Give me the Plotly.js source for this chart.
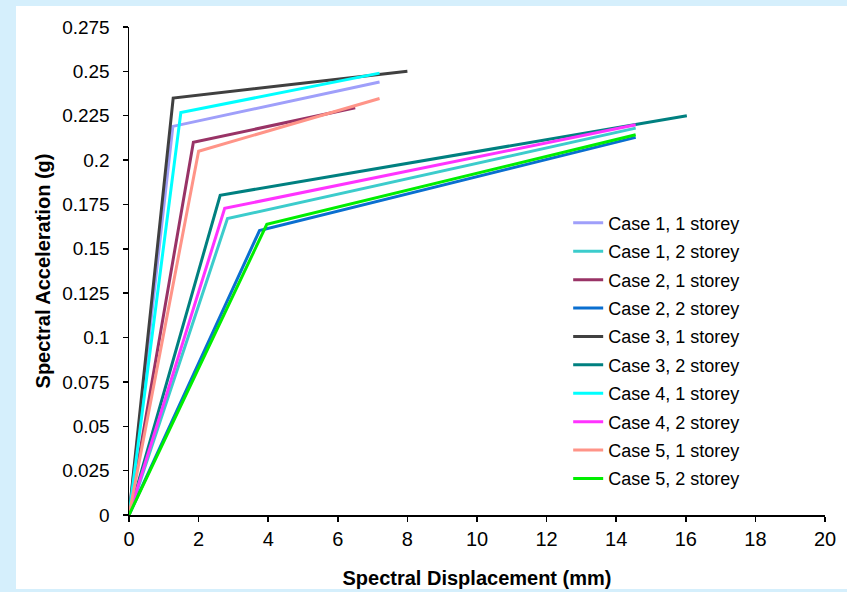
<!DOCTYPE html>
<html>
<head>
<meta charset="utf-8">
<script src="https://cdn.plot.ly/plotly-3.0.1.min.js"></script>
<style>
  html, body { margin: 0; padding: 0; width: 847px; height: 592px; background: #d5effc; overflow: hidden; }
  #plot { position: absolute; left: 16px; top: 6px; width: 831px; height: 583px; background: #ffffff; }
</style>
</head>
<body>
<div id="plot"></div>
<script>
// Series names
const seriesNames = [
  "Case 1, 1 storey", "Case 1, 2 storey",
  "Case 2, 1 storey", "Case 2, 2 storey",
  "Case 3, 1 storey", "Case 3, 2 storey",
  "Case 4, 1 storey", "Case 4, 2 storey",
  "Case 5, 1 storey", "Case 5, 2 storey"
];
// Spectral displacement (mm) / spectral acceleration (g): origin, yield point, end point
const case1_1storey_x = [0, 1.26, 7.2];
const case1_1storey_y = [0, 0.219, 0.244];
const case1_2storey_x = [0, 2.83, 14.56];
const case1_2storey_y = [0, 0.167, 0.218];
const case2_1storey_x = [0, 1.85, 6.5];
const case2_1storey_y = [0, 0.210, 0.2295];
const case2_2storey_x = [0, 3.75, 14.56];
const case2_2storey_y = [0, 0.1603, 0.2128];
const case3_1storey_x = [0, 1.27, 8.0];
const case3_1storey_y = [0, 0.235, 0.250];
const case3_2storey_x = [0, 2.62, 16.03];
const case3_2storey_y = [0, 0.1802, 0.225];
const case4_1storey_x = [0, 1.49, 7.2];
const case4_1storey_y = [0, 0.2268, 0.249];
const case4_2storey_x = [0, 2.75, 14.56];
const case4_2storey_y = [0, 0.1728, 0.2199];
const case5_1storey_x = [0, 2.0, 7.2];
const case5_1storey_y = [0, 0.205, 0.2347];
const case5_2storey_x = [0, 3.96, 14.56];
const case5_2storey_y = [0, 0.1638, 0.2143];

const seriesX = [case1_1storey_x, case1_2storey_x, case2_1storey_x, case2_2storey_x, case3_1storey_x,
                 case3_2storey_x, case4_1storey_x, case4_2storey_x, case5_1storey_x, case5_2storey_x];
const seriesY = [case1_1storey_y, case1_2storey_y, case2_1storey_y, case2_2storey_y, case3_1storey_y,
                 case3_2storey_y, case4_1storey_y, case4_2storey_y, case5_1storey_y, case5_2storey_y];
const seriesColors = ["#9f9ffa", "#3ccccc", "#993366", "#0a6fd0", "#404040",
                      "#008080", "#00ffff", "#ff33ff", "#ff9488", "#00ee00"];

// Tick labels
const yTickVals = [0, 0.025, 0.05, 0.075, 0.1, 0.125, 0.15, 0.175, 0.2, 0.225, 0.25, 0.275];
const yTickText = ["0", "0.025", "0.05", "0.075", "0.1", "0.125", "0.15", "0.175", "0.2", "0.225", "0.25", "0.275"];
const xTickVals = [0, 2, 4, 6, 8, 10, 12, 14, 16, 18, 20];
const xTickText = ["0", "2", "4", "6", "8", "10", "12", "14", "16", "18", "20"];

const traces = seriesNames.map((name, i) => ({
  type: "scatter",
  mode: "lines",
  name: name,
  legendgroup: "g" + i,
  x: seriesX[i],
  y: seriesY[i],
  line: { color: seriesColors[i], width: 3 },
  hoverinfo: "x+y+name"
}));

const layout = {
  width: 831,
  height: 583,
  margin: { l: 113, r: 22, t: 21, b: 74 },
  paper_bgcolor: "#ffffff",
  plot_bgcolor: "#ffffff",
  font: { family: "Arial, 'Liberation Sans', sans-serif", color: "#000000" },
  showlegend: true,
  legend: {
    x: 0.631, xanchor: "left",
    y: 0.636, yanchor: "top",
    bgcolor: "rgba(255,255,255,0)",
    borderwidth: 0,
    font: { size: 18, family: "Arial, 'Liberation Sans', sans-serif", color: "#000000" },
    traceorder: "grouped",
    tracegroupgap: 2
  },
  xaxis: {
    range: [0, 20],
    tickvals: xTickVals,
    ticktext: xTickText,
    ticks: "outside",
    ticklen: 5,
    tickwidth: 1.5,
    tickcolor: "#000000",
    showline: true,
    linecolor: "#000000",
    linewidth: 1.5,
    showgrid: false,
    zeroline: false,
    ticklabelstandoff: 0,
    tickfont: { size: 20, family: "'Liberation Sans Narrow', Arial, 'Liberation Sans', sans-serif", color: "#000000" },
    title: { text: "Spectral Displacement (mm)", font: { size: 20, family: "Arial, 'Liberation Sans', sans-serif", weight: "bold", color: "#000000" }, standoff: 24 },
    fixedrange: true
  },
  yaxis: {
    range: [0, 0.275],
    tickvals: yTickVals,
    ticktext: yTickText,
    ticks: "outside",
    ticklen: 5,
    tickwidth: 1.5,
    tickcolor: "#000000",
    showline: true,
    linecolor: "#000000",
    linewidth: 1.5,
    showgrid: false,
    zeroline: false,
    ticklabelstandoff: 9,
    tickfont: { size: 19, family: "Arial, 'Liberation Sans', sans-serif", color: "#000000" },
    title: { text: "Spectral Acceleration (g)", font: { size: 20, family: "Arial, 'Liberation Sans', sans-serif", weight: "bold", color: "#000000" }, standoff: 6 },
    fixedrange: true
  }
};

Plotly.newPlot("plot", traces, layout, { displayModeBar: false, staticPlot: true });
</script>
</body>
</html>
